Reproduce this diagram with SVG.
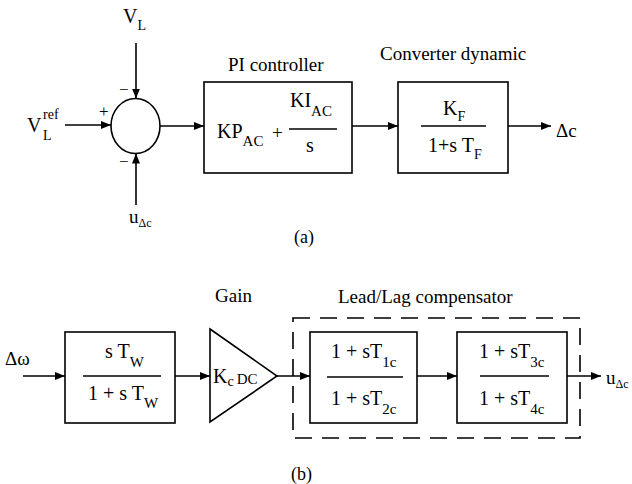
<svg xmlns="http://www.w3.org/2000/svg" width="632" height="484" viewBox="0 0 632 484" font-family="'Liberation Serif', 'Times New Roman', serif" font-size="19">
<defs>
<marker id="ah" viewBox="0 0 10 8" refX="10" refY="4" markerWidth="10" markerHeight="8" markerUnits="userSpaceOnUse" orient="auto"><path d="M0,0 L10,4 L0,8 z" fill="#000"/></marker>
<style>
.blk{fill:#fff;stroke:#000;stroke-width:1.6}
.ln{stroke:#000;stroke-width:1.6;fill:none}
.fr{stroke:#000;stroke-width:1.4}
.dash{fill:none;stroke:#000;stroke-width:1.6;stroke-dasharray:17 10}
</style>
</defs>
<rect width="632" height="484" fill="#fff"/>

<g id="connectors">
<line class="ln" x1="136" y1="43" x2="136" y2="98.5" marker-end="url(#ah)"/>
<line class="ln" x1="136" y1="205" x2="136" y2="153.5" marker-end="url(#ah)"/>
<line class="ln" x1="65" y1="125" x2="111" y2="125" marker-end="url(#ah)"/>
<line class="ln" x1="160" y1="126" x2="204" y2="126" marker-end="url(#ah)"/>
<line class="ln" x1="352" y1="126" x2="398" y2="126" marker-end="url(#ah)"/>
<line class="ln" x1="508" y1="126" x2="551" y2="126" marker-end="url(#ah)"/>
<line class="ln" x1="23" y1="376" x2="65" y2="376" marker-end="url(#ah)"/>
<line class="ln" x1="175" y1="376" x2="210" y2="376" marker-end="url(#ah)"/>
<line class="ln" x1="277" y1="376" x2="310" y2="376" marker-end="url(#ah)"/>
<line class="ln" x1="417" y1="376" x2="457" y2="376" marker-end="url(#ah)"/>
<line class="ln" x1="567" y1="376" x2="601" y2="376" marker-end="url(#ah)"/>
</g>

<g id="label-VL"><text x="123" y="23" font-size="20">V<tspan font-size="14" dy="7">L</tspan></text></g>
<g id="label-Vref"><text x="27" y="132" font-size="20">V</text><text font-size="14" x="43" y="119">ref</text><text font-size="14" x="43" y="140">L</text></g>
<g id="label-u-top"><text x="129" y="223">u<tspan font-size="12" dy="4">Δc</tspan></text></g>

<g id="sum">
<ellipse cx="135.5" cy="126" rx="24.5" ry="27.5" class="ln"/>
<text x="99" y="117" font-size="17">+</text>
<text x="119" y="95" font-size="17">−</text>
<text x="119" y="167" font-size="17">−</text>
</g>

<g id="pi">
<text x="228" y="71">PI controller</text>
<rect class="blk" x="204" y="82" width="148" height="91"/>
<text x="217" y="138" font-size="20">KP<tspan dy="8" font-size="15">AC</tspan></text>
<text x="272" y="139" font-size="19">+</text>
<text x="290" y="107" font-size="20">KI<tspan dy="9" font-size="15">AC</tspan></text>
<line class="fr" x1="289" y1="129" x2="337" y2="129"/>
<text x="306" y="152" font-size="20">s</text>
</g>

<g id="converter">
<text x="380" y="60">Converter dynamic</text>
<rect class="blk" x="398" y="82" width="110" height="91"/>
<text x="443" y="115" font-size="20">K<tspan font-size="14" dy="6">F</tspan></text>
<line class="fr" x1="421" y1="126" x2="486" y2="126"/>
<text x="428" y="152" font-size="20">1+s T<tspan font-size="14" dy="7">F</tspan></text>
</g>

<g id="label-dc"><text x="556" y="137">Δc</text></g>
<g id="label-a"><text x="294" y="243" font-size="18">(a)</text></g>

<g id="label-dw"><text x="5" y="365">Δω</text></g>

<g id="washout">
<rect class="blk" x="65" y="332" width="110" height="91"/>
<text x="105" y="358" font-size="20">s T<tspan dy="9" font-size="15">W</tspan></text>
<line class="fr" x1="83" y1="376" x2="161" y2="376"/>
<text x="88" y="400" font-size="20">1 + s T<tspan dy="8" font-size="15">W</tspan></text>
</g>

<g id="gain">
<text x="215" y="302">Gain</text>
<polygon class="blk" points="210,329 277,376 210,422"/>
<text x="213" y="383" font-size="20">K<tspan font-size="14" dy="3">c</tspan><tspan font-size="15" dx="3" dy="-2">DC</tspan></text>
</g>

<g id="leadlag">
<text x="338" y="303">Lead/Lag compensator</text>
<rect class="dash" x="293" y="318" width="287" height="120"/>
</g>

<g id="ll1">
<rect class="blk" x="310" y="332" width="107" height="91"/>
<text x="331" y="358" font-size="20">1 + sT<tspan dy="9" font-size="15">1c</tspan></text>
<line class="fr" x1="327" y1="377" x2="403" y2="377"/>
<text x="331" y="405" font-size="20">1 + sT<tspan dy="9" font-size="15">2c</tspan></text>
</g>

<g id="ll2">
<rect class="blk" x="457" y="332" width="110" height="91"/>
<text x="479" y="358" font-size="20">1 + sT<tspan dy="9" font-size="15">3c</tspan></text>
<line class="fr" x1="480" y1="376" x2="549" y2="376"/>
<text x="479" y="405" font-size="20">1 + sT<tspan dy="9" font-size="15">4c</tspan></text>
</g>

<g id="label-u-out"><text x="606" y="384">u<tspan font-size="12" dy="4">Δc</tspan></text></g>
<g id="label-b"><text x="291" y="480" font-size="18">(b)</text></g>
</svg>
